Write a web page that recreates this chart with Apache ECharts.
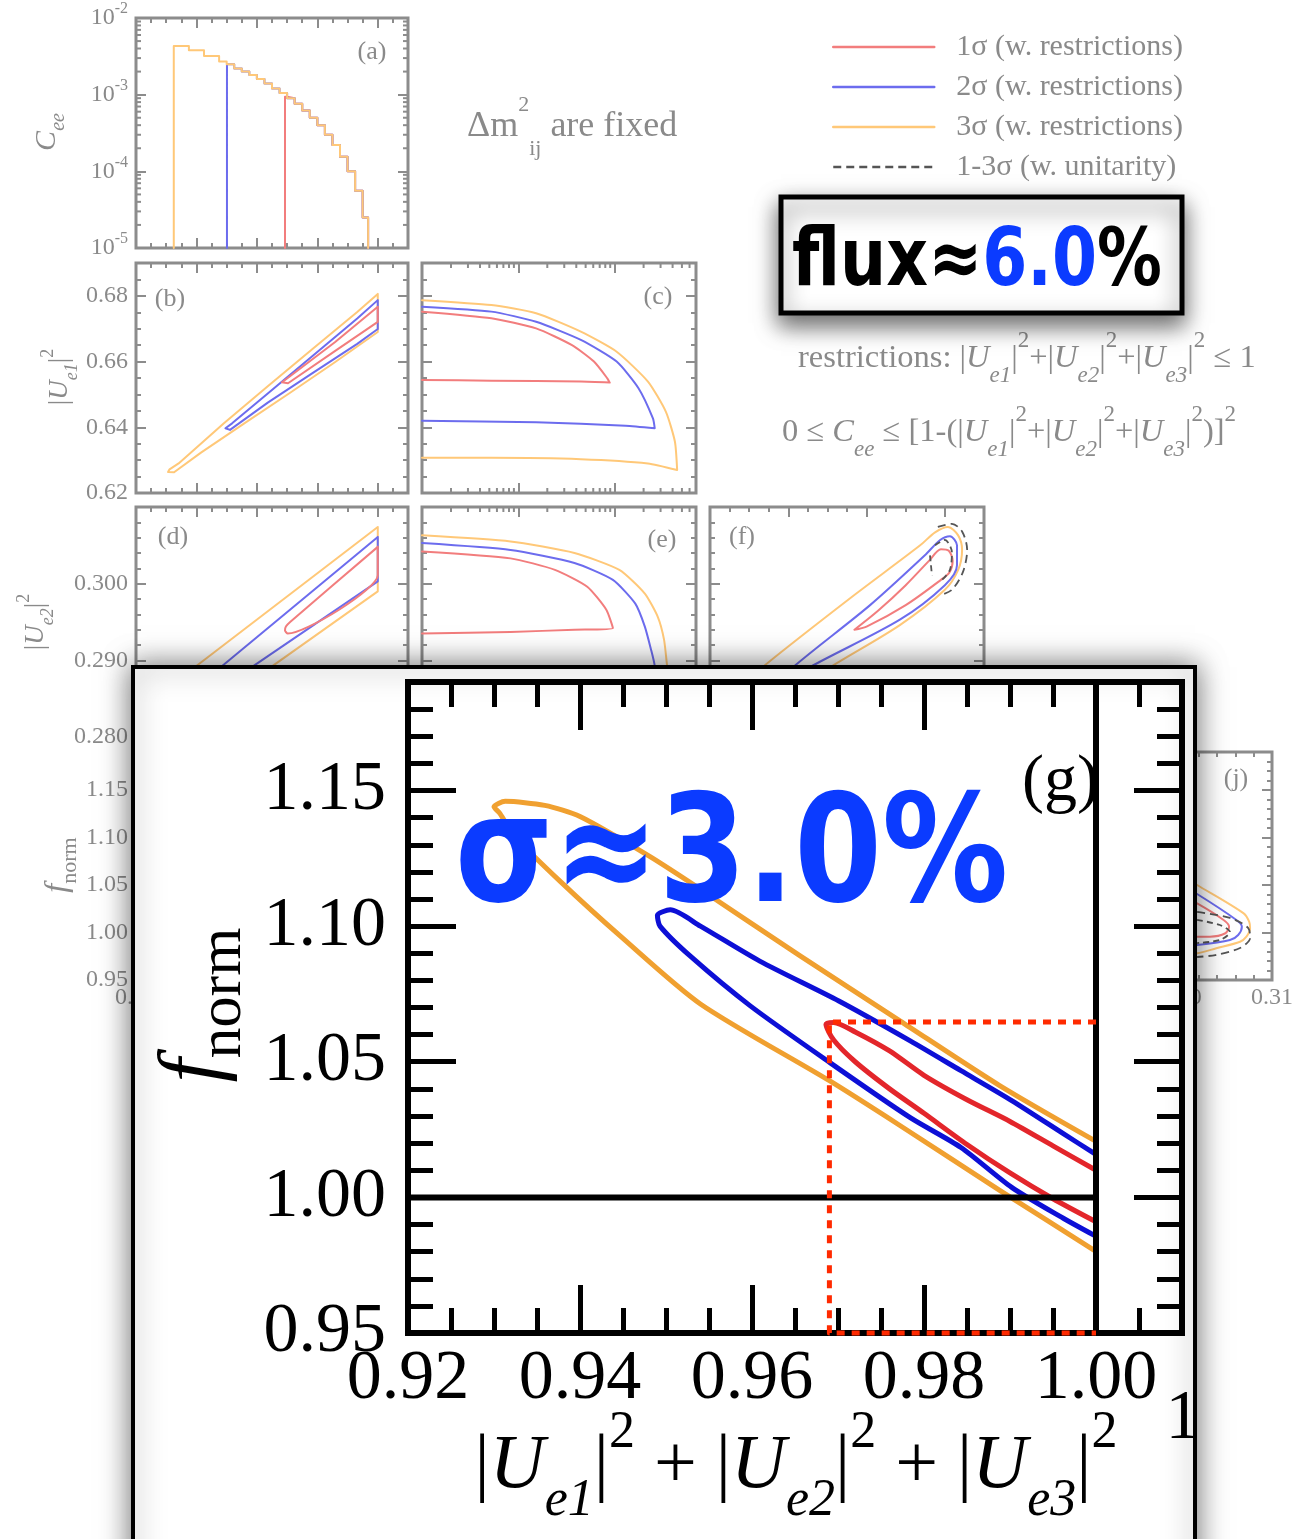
<!DOCTYPE html>
<html>
<head>
<meta charset="utf-8">
<script src="https://cdn.jsdelivr.net/npm/echarts@6.0.0/dist/echarts.min.js"></script>
<style>
html,body{margin:0;padding:0;background:#ffffff;}
#chart{width:1307px;height:1539px;}
</style>
</head>
<body>
<div id="chart"></div>
<script>
// ================= DATA =================
const legendNames = ['1σ (w. restrictions)', '2σ (w. restrictions)', '3σ (w. restrictions)', '1-3σ (w. unitarity)'];

// (a) C_ee upper boundary (staircase) vs |Ue1|²+|Ue2|²+|Ue3|²
const aSum = [0.9325,0.9375,0.9425,0.9475,0.9500,0.9525,0.9550,0.9575,0.9600,0.9625,0.9650,0.9675,0.9700,0.9725,0.9750,0.9775,0.9800,0.9825,0.9850,0.9875,0.9900,0.9925,0.9950,0.9968];
const aCee = [4.3e-3,3.8e-3,3.2e-3,2.7e-3,2.5e-3,2.2e-3,2.0e-3,1.8e-3,1.6e-3,1.4e-3,1.2e-3,1.05e-3,9.0e-4,7.6e-4,6.2e-4,5.0e-4,4.0e-4,3.0e-4,2.2e-4,1.55e-4,1.0e-4,5.6e-5,2.5e-5,1.0e-5];
const aRedStart = [0.9693, 9.4e-4];
const aBlueStart = [0.9501, 2.5e-3];
const aOrangeStart = [0.9325, 4.3e-3];

// (b) |Ue1|² vs sum
const bRed = [[0.9683,0.6537],[0.9703,0.6551],[0.9858,0.6659],[1.0,0.6767],[1.0,0.6721],[0.9858,0.6632],[0.9703,0.6534],[0.9683,0.6537]];
const bBlue = [[0.9496,0.6397],[0.9518,0.6412],[0.9636,0.6503],[0.9784,0.6617],[0.9932,0.6731],[1.0,0.6787],[1.0,0.6699],[0.9932,0.6654],[0.9784,0.6565],[0.9636,0.6475],[0.9511,0.6392],[0.9496,0.6397]];
const bOrange = [[0.9306,0.6264],[0.9311,0.6272],[0.9341,0.6290],[0.9489,0.6411],[0.9636,0.6525],[0.9784,0.6638],[0.9932,0.6751],[1.0,0.6806],[1.0,0.6690],[0.9858,0.6598],[0.9710,0.6505],[0.9562,0.6414],[0.9415,0.6323],[0.9326,0.6263],[0.9306,0.6264]];

// (c) |Ue1|² vs C_ee
const cRed = [[1e-5,0.6752],[5.25e-5,0.6732],[1.53e-4,0.6701],[3.61e-4,0.6650],[6.1e-4,0.6600],[8.4e-4,0.6549],[8.9e-4,0.6536],[4.46e-4,0.6539],[5.25e-5,0.6542],[1e-5,0.6544]];
const cBlue = [[1e-5,0.6767],[5.25e-5,0.6752],[1.53e-4,0.6721],[4.46e-4,0.6666],[1.05e-3,0.6600],[1.77e-3,0.6519],[2.50e-3,0.6427],[2.61e-3,0.6397],[1.30e-3,0.6405],[1.53e-4,0.6415],[1e-5,0.6420]];
const cOrange = [[1e-5,0.6787],[5.25e-5,0.6772],[1.53e-4,0.6747],[4.46e-4,0.6691],[1.05e-3,0.6630],[2.22e-3,0.6539],[3.41e-3,0.6447],[4.23e-3,0.6356],[4.46e-3,0.6270],[2.22e-3,0.6290],[4.46e-4,0.6303],[5.25e-5,0.6307],[1e-5,0.6307]];

// (d) |Ue2|² vs sum
const dRed = [[1.0,0.3048],[0.9710,0.2950],[0.9696,0.2944],[0.9693,0.2939],[0.9702,0.2935],[1.0,0.3011],[1.0,0.3048]];
const dBlue = [[0.935,0.2849],[0.9489,0.2894],[1.0,0.3061],[1.0,0.3003],[0.9594,0.2894],[0.945,0.2855]];
const dOrange = [[0.925,0.2847],[0.9404,0.2894],[1.0,0.3074],[1.0,0.2990],[0.9657,0.2894],[0.945,0.2836]];

// (e) |Ue2|² vs C_ee
const eRed = [[1e-5,0.3042],[8.3e-5,0.3033],[2.4e-4,0.3018],[5.2e-4,0.2996],[8.2e-4,0.2966],[9.6e-4,0.2942],[3.83e-4,0.2940],[8.3e-5,0.2937],[1e-5,0.2935]];
const eBlue = [[1e-5,0.3053],[8.3e-5,0.3044],[3.83e-4,0.3027],[9.6e-4,0.3005],[1.64e-3,0.2974],[2.06e-3,0.2944],[2.4e-3,0.2913],[2.6e-3,0.2894],[2.8e-3,0.2860]];
const eOrange = [[1e-5,0.3063],[8.3e-5,0.3055],[3.83e-4,0.3040],[1.12e-3,0.3018],[2.06e-3,0.2987],[2.8e-3,0.2957],[3.26e-3,0.2927],[3.5e-3,0.2894],[3.9e-3,0.2850]];

// (f) |Ue2|² vs |Ue1|²
const fRed = [[0.6569,0.2940],[0.6630,0.2965],[0.6700,0.2998],[0.6760,0.3030],[0.6790,0.3045],[0.6810,0.3043],[0.6820,0.3030],[0.6812,0.3015],[0.6790,0.3005],[0.6700,0.2972],[0.6600,0.2944],[0.6569,0.2940]];
const fBlue = [[0.6400,0.2880],[0.6412,0.2891],[0.6609,0.2972],[0.6749,0.3037],[0.6788,0.3057],[0.6813,0.3062],[0.6831,0.3050],[0.6831,0.3024],[0.6800,0.2998],[0.6685,0.2953],[0.6455,0.2891],[0.6430,0.2880]];
const fOrange = [[0.6315,0.2880],[0.6341,0.2894],[0.6558,0.2981],[0.6737,0.3050],[0.6775,0.3067],[0.6808,0.3074],[0.6834,0.3063],[0.6844,0.3044],[0.6834,0.3018],[0.6800,0.2992],[0.6685,0.2946],[0.6507,0.2891],[0.6480,0.2880]];
const fDashA = [[0.6782,0.3074],[0.6818,0.3078],[0.6844,0.3068],[0.6857,0.3044],[0.6846,0.3015],[0.6818,0.2992],[0.6788,0.2985]];
const fDashB = [[0.6775,0.3050],[0.6800,0.3057],[0.6818,0.3041],[0.6813,0.3018],[0.6793,0.3005]];
const fDashC = [[0.6762,0.3037],[0.6767,0.3011]];

// (j) f_norm vs |Ue2|²
const jRed = [[0.2912,1.0868],[0.3018,1.0307],[0.3047,1.0132],[0.3053,1.0061],[0.3049,0.9992],[0.3032,0.9956],[0.3018,0.9956],[0.2912,0.9953]];
const jBlue = [[0.2912,1.1026],[0.3018,1.0405],[0.3061,1.0132],[0.3067,1.0061],[0.3063,0.9974],[0.3054,0.9921],[0.3018,0.9868],[0.2912,0.9763]];
const jOrange = [[0.2911,1.1121],[0.3018,1.0500],[0.3069,1.0202],[0.3075,1.0114],[0.3076,1.0044],[0.3072,0.9956],[0.3065,0.9903],[0.3039,0.9834],[0.3018,0.9781],[0.2912,0.9658]];
const jDashA = [[0.3018,1.0216],[0.3054,1.0153],[0.3074,1.0047],[0.3076,0.9942],[0.3065,0.9837],[0.3038,0.9763],[0.3018,0.9742]];
const jDashB = [[0.3018,1.0132],[0.3043,1.0079],[0.3054,1.0005],[0.3043,0.9921],[0.3018,0.9889]];

// (g) magnified: f_norm vs sum
const gRed = [[1.0,1.0100],[0.995,1.0190],[0.990,1.0280],[0.985,1.0360],[0.980,1.0450],[0.976,1.0540],[0.972,1.0610],[0.9695,1.0645],[0.9686,1.0638],[0.9695,1.0580],[0.972,1.0500],[0.976,1.0400],[0.980,1.0310],[0.985,1.0195],[0.990,1.0090],[0.995,0.9995],[1.0,0.9910]];
const gBlue = [[0.9998,1.0162],[0.9962,1.0235],[0.9902,1.0357],[0.9843,1.0467],[0.9784,1.0577],[0.9701,1.0724],[0.9609,1.0871],[0.9540,1.1000],[0.9505,1.1060],[0.9490,1.1040],[0.9493,1.1000],[0.9528,1.0890],[0.9598,1.0706],[0.9691,1.0496],[0.9784,1.0294],[0.9843,1.0184],[0.9902,1.0037],[0.9962,0.9923],[0.9998,0.9860]];
const gOrange = [[0.9998,1.0210],[0.9888,1.0412],[0.9772,1.0651],[0.9656,1.0890],[0.9540,1.1136],[0.9481,1.1257],[0.9400,1.1404],[0.9359,1.1445],[0.9313,1.1460],[0.9300,1.1440],[0.9307,1.1415],[0.9324,1.1331],[0.9377,1.1165],[0.9447,1.0963],[0.9540,1.0713],[0.9690,1.0430],[0.9772,1.0265],[0.9888,1.0026],[0.9998,0.9805]];
const gUnitV = [[1.0,0.95],[1.0,1.19]];
const gUnitH = [[0.92,1.0],[1.0,1.0]];
const gBox = [[1.0,1.0647],[0.969,1.0647],[0.969,0.95],[1.0,0.95]];

// axis ranges
const sumAxis = {min:0.92, max:1.01, interval:0.02, minor:4};
const ceeAxis = {type:'log', min:1e-5, max:7e-3};
const ue1Axis = {min:0.62, max:0.69, interval:0.02, minor:4};
const ue2Axis = {min:0.28, max:0.31, interval:0.01, minor:5};
const fnAxis = {min:0.95, max:1.19, interval:0.05, minor:5};
const logMultipliers = [2,3,4,5,6,7,8,9];
const logDecades = [-5,-4,-3];

// ================= STYLE / BUILD =================
const SERIF = '"Liberation Serif", "Times New Roman", Times, serif';
const GRAY = '#8a8a8a';
const LC = {red:'#f27d7d', blue:'#6c6cee', orange:'#ffc878', dash:'#555555'};
const ZC = {red:'#e3262b', blue:'#0d0fd6', orange:'#f0a030'};
const BG = {z:0, color:'#8c8c8c', tickL:10, minorL:5, tickW:2, labelColor:GRAY, labelSize:24, xMargin:6, yMargin:8};
const ZM = {z:12, color:'#000000', tickL:48, minorL:25, tickW:5, labelColor:'#000000', labelSize:70, xMargin:12, yMargin:22};

const grids = [], xAxes = [], yAxes = [], series = [], elements = [];

function mkAxis(gi, c, pos, showLabel, st, isX) {
  const isLog = c.type === 'log';
  const ax = {
    gridIndex: gi, type: isLog ? 'log' : 'value', position: pos,
    min: c.min, max: c.max, z: st.z,
    axisLine: {show: false}, splitLine: {show: false}, minorSplitLine: {show: false},
    axisTick: {show: true, inside: true, length: st.tickL, lineStyle: {color: st.color, width: st.tickW}},
    minorTick: {show: !isLog, splitNumber: c.minor || 5, length: st.minorL, lineStyle: {color: st.color, width: st.tickW}},
    axisLabel: {show: !!showLabel, color: st.labelColor, fontFamily: SERIF, fontSize: st.labelSize,
      margin: isX ? st.xMargin : st.yMargin, showMinLabel: true, showMaxLabel: !!c.showMax, hideOverlap: false}
  };
  if (isLog) ax.logBase = 10;
  if (c.interval) ax.interval = c.interval;
  if (c.dec !== undefined) { const d = c.dec; ax.axisLabel.formatter = v => Number(v).toFixed(d); }
  if (c.exp) {
    ax.axisLabel.formatter = v => '{b|10}{s|' + Math.round(Math.log10(v)) + '}';
    ax.axisLabel.lineHeight = 34;
    ax.axisLabel.rich = {
      b: {fontSize: 24, fontFamily: SERIF, color: GRAY, lineHeight: 34},
      s: {fontSize: 16, fontFamily: SERIF, color: GRAY, verticalAlign: 'top'}
    };
  }
  return ax;
}
function addPanel(rect, xc, yc, st, frameColor, frameW) {
  const gi = grids.length;
  grids.push({left: rect[0], top: rect[1], width: rect[2], height: rect[3], show: true,
    backgroundColor: 'transparent', borderColor: frameColor, borderWidth: frameW, z: st.z,
    containLabel: false, outerBoundsMode: 'none'});
  xAxes.push(mkAxis(gi, xc, 'bottom', xc.labels, st, true));
  xAxes.push(mkAxis(gi, xc, 'top', false, st, true));
  yAxes.push(mkAxis(gi, yc, 'left', yc.labels, st, false));
  yAxes.push(mkAxis(gi, yc, 'right', false, st, false));
  return {x: xAxes.length - 2, y: yAxes.length - 2};
}
function addLine(p, data, color, width, o) {
  o = o || {};
  series.push({type: 'line', name: o.name, xAxisIndex: p.x, yAxisIndex: p.y, data: data,
    symbol: 'none', showSymbol: false, smooth: o.smooth || false, clip: o.clip !== false,
    z: o.z || 2, silent: true, animation: false,
    lineStyle: {color: color, width: width, type: o.dash || 'solid', cap: o.cap || 'round', join: 'round'},
    itemStyle: {color: color}, emphasis: {disabled: true}});
}
function logTicks(p, axis, other, L, color, w, maxV) {
  const vals = [];
  logDecades.forEach(e => logMultipliers.forEach(m => { const v = m * Math.pow(10, e); if (v < maxV) vals.push(v); }));
  series.push({type: 'custom', xAxisIndex: p.x, yAxisIndex: p.y, silent: true, clip: false, z: 2, animation: false,
    data: vals.map(v => axis === 'y' ? [other, v] : [v, other]),
    renderItem: function (params, api) {
      const cs = params.coordSys;
      const pt = api.coord([api.value(0), api.value(1)]);
      const st = {stroke: color, lineWidth: w};
      if (axis === 'y') return {type: 'group', children: [
        {type: 'line', shape: {x1: cs.x, y1: pt[1], x2: cs.x + L, y2: pt[1]}, style: st},
        {type: 'line', shape: {x1: cs.x + cs.width - L, y1: pt[1], x2: cs.x + cs.width, y2: pt[1]}, style: st}]};
      return {type: 'group', children: [
        {type: 'line', shape: {x1: pt[0], y1: cs.y, x2: pt[0], y2: cs.y + L}, style: st},
        {type: 'line', shape: {x1: pt[0], y1: cs.y + cs.height - L, x2: pt[0], y2: cs.y + cs.height}, style: st}]};
    }});
}
function stair(start) {
  const pts = [[start[0], 1e-5], [start[0], start[1]]];
  let cur = start[1];
  for (let i = 0; i < aSum.length; i++) {
    if (aSum[i] > start[0]) { pts.push([aSum[i], cur]); pts.push([aSum[i], aCee[i]]); cur = aCee[i]; }
  }
  return pts;
}

// ---------- panels ----------
const FR = '#8c8c8c';
const pa = addPanel([136, 18, 272, 230], sumAxis, {type: 'log', min: 1e-5, max: 1e-2, labels: true, exp: true, showMax: true}, BG, FR, 3);
const pb = addPanel([136, 263, 272, 230], sumAxis, Object.assign({labels: true, dec: 2}, ue1Axis), BG, FR, 3);
const pc = addPanel([422, 263, 274, 230], ceeAxis, ue1Axis, BG, FR, 3);
const pd = addPanel([136, 507, 272, 230], sumAxis, Object.assign({labels: true, dec: 3}, ue2Axis), BG, FR, 3);
const pe = addPanel([422, 507, 274, 230], ceeAxis, ue2Axis, BG, FR, 3);
const pf = addPanel([710, 507, 274, 230], ue1Axis, ue2Axis, BG, FR, 3);
const pg = addPanel([136, 752, 272, 228], Object.assign({labels: true, dec: 2}, sumAxis), Object.assign({labels: true, dec: 2}, fnAxis), BG, FR, 3);
const pj = addPanel([998, 752, 274, 228], Object.assign({labels: true, dec: 2, showMax: true}, ue2Axis), fnAxis, BG, FR, 3);
const pz = addPanel([408, 682, 774, 651], Object.assign({labels: true, dec: 2}, sumAxis), Object.assign({labels: true, dec: 2}, fnAxis), ZM, '#000000', 6);

// ---------- background series ----------
const W = 2;
addLine(pa, stair(aRedStart), LC.red, W, {name: legendNames[0]});
addLine(pa, stair(aBlueStart), LC.blue, W, {name: legendNames[1]});
addLine(pa, stair(aOrangeStart), LC.orange, W, {name: legendNames[2]});
addLine(pf, fDashA, LC.dash, 1.8, {name: legendNames[3], dash: [8, 5], cap: 'butt', smooth: 0.3});

addLine(pb, bOrange, LC.orange, W, {name: legendNames[2]});
addLine(pb, bBlue, LC.blue, W, {name: legendNames[1]});
addLine(pb, bRed, LC.red, W, {name: legendNames[0]});
addLine(pc, cOrange, LC.orange, W, {name: legendNames[2], smooth: 0.2});
addLine(pc, cBlue, LC.blue, W, {name: legendNames[1], smooth: 0.2});
addLine(pc, cRed, LC.red, W, {name: legendNames[0], smooth: 0.2});
addLine(pd, dOrange, LC.orange, W, {name: legendNames[2]});
addLine(pd, dBlue, LC.blue, W, {name: legendNames[1]});
addLine(pd, dRed, LC.red, W, {name: legendNames[0], smooth: 0.2});
addLine(pe, eOrange, LC.orange, W, {name: legendNames[2], smooth: 0.2});
addLine(pe, eBlue, LC.blue, W, {name: legendNames[1], smooth: 0.2});
addLine(pe, eRed, LC.red, W, {name: legendNames[0], smooth: 0.2});
addLine(pf, fOrange, LC.orange, W, {name: legendNames[2], smooth: 0.3});
addLine(pf, fBlue, LC.blue, W, {name: legendNames[1], smooth: 0.3});
addLine(pf, fRed, LC.red, W, {name: legendNames[0], smooth: 0.3});
addLine(pf, fDashB, LC.dash, 1.8, {name: legendNames[3], dash: [6, 4], cap: 'butt', smooth: 0.3});
addLine(pf, fDashC, LC.dash, 1.8, {name: legendNames[3], dash: [6, 4], cap: 'butt'});
addLine(pj, jOrange, LC.orange, W, {name: legendNames[2], smooth: 0.3});
addLine(pj, jBlue, LC.blue, W, {name: legendNames[1], smooth: 0.3});
addLine(pj, jRed, LC.red, W, {name: legendNames[0], smooth: 0.3});
addLine(pj, jDashA, LC.dash, 1.8, {name: legendNames[3], dash: [8, 5], cap: 'butt', smooth: 0.3});
addLine(pj, jDashB, LC.dash, 1.8, {name: legendNames[3], dash: [6, 4], cap: 'butt', smooth: 0.3});

logTicks(pa, 'y', 0.95, 5, '#8c8c8c', 2, 1e-2);
logTicks(pc, 'x', 0.65, 5, '#8c8c8c', 2, 7e-3);
logTicks(pe, 'x', 0.295, 5, '#8c8c8c', 2, 7e-3);

// ---------- magnified (g) series ----------
addLine(pz, gOrange, ZC.orange, 5, {name: 'g-3σ', smooth: 0.25, z: 13});
addLine(pz, gBlue, ZC.blue, 5, {name: 'g-2σ', smooth: 0.25, z: 13});
addLine(pz, gRed, ZC.red, 5, {name: 'g-1σ', smooth: 0.25, z: 13});
addLine(pz, gUnitV, '#000000', 6, {name: 'g-unit-v', z: 14, clip: false, cap: 'butt'});
addLine(pz, gUnitH, '#000000', 6, {name: 'g-unit-h', z: 14, clip: false, cap: 'butt'});
addLine(pz, gBox, '#ff2a00', 5, {name: 'g-box', z: 15, clip: false, dash: [8, 7], cap: 'butt'});

// ---------- texts ----------
function rich(size, color, subRatio) {
  const s = Math.round(size * (subRatio || 0.68));
  return {
    n: {fontSize: size, fontFamily: SERIF, fill: color, color: color},
    i: {fontSize: size, fontFamily: SERIF, fontStyle: 'italic', fill: color, color: color},
    sub: {fontSize: s, fontFamily: SERIF, fontStyle: 'italic', fill: color, color: color, verticalAlign: 'bottom'},
    subn: {fontSize: s, fontFamily: SERIF, fill: color, color: color, verticalAlign: 'bottom'},
    sup: {fontSize: s, fontFamily: SERIF, fill: color, color: color, verticalAlign: 'top'}
  };
}
function txt(x, y, text, o) {
  o = o || {};
  const align = o.align || 'center', va = o.va || 'middle';
  elements.push({type: 'text', x: x, y: y, rotation: o.rot || 0, scaleX: o.sx || 1, scaleY: 1, z: o.z || 1, silent: true,
    style: {text: text, rich: o.rich, fill: o.fill || GRAY, fontSize: o.size || 24,
      fontFamily: o.family || SERIF, fontStyle: o.italic ? 'italic' : 'normal', fontWeight: o.bold ? 'bold' : 'normal',
      align: align, textAlign: align, verticalAlign: va, textVerticalAlign: va, lineHeight: o.lh}});
}
const RP = Math.PI / 2;
// axis titles (background)
txt(47, 132, '{i|C}{sub|ee}', {rich: rich(30, GRAY), rot: RP, lh: 44});
txt(60, 377, '{n||}{i|U}{sub|e1}{n||}{sup|2}', {rich: rich(27, GRAY), rot: RP, lh: 42});
txt(36, 622, '{n||}{i|U}{sub|e2}{n||}{sup|2}', {rich: rich(27, GRAY), rot: RP, lh: 42});
txt(58, 865, '{i|f}{subn|norm}', {rich: rich(32, GRAY), rot: RP, lh: 46});
// panel tags
txt(372, 52, '(a)', {size: 26});
txt(170, 299, '(b)', {size: 26});
txt(658, 297, '(c)', {size: 26});
txt(173, 537, '(d)', {size: 26});
txt(662, 540, '(e)', {size: 26});
txt(742, 537, '(f)', {size: 26});
txt(1236, 779, '(j)', {size: 26});
// annotations
txt(467, 127, '{n|Δm}{sup|2}{subn|ij}{n| are fixed}', {rich: rich(36, GRAY, 0.62), align: 'left', lh: 66});
txt(798, 358, '{n|restrictions: |}{i|U}{sub|e1}{n||}{sup|2}{n|+|}{i|U}{sub|e2}{n||}{sup|2}{n|+|}{i|U}{sub|e3}{n||}{sup|2}{n| ≤ 1}',
  {rich: rich(32.5, GRAY, 0.72), align: 'left', lh: 58});
txt(782, 432, '{n|0 ≤ }{i|C}{sub|ee}{n| ≤ [1-(|}{i|U}{sub|e1}{n||}{sup|2}{n|+|}{i|U}{sub|e2}{n||}{sup|2}{n|+|}{i|U}{sub|e3}{n||}{sup|2}{n|)]}{sup|2}',
  {rich: rich(32.5, GRAY, 0.72), align: 'left', lh: 58});

// overlay frame (magnified panel g)
elements.push({type: 'rect', z: 10, silent: true, shape: {x: 133, y: 667, width: 1062, height: 920},
  style: {fill: '#ffffff', stroke: '#000000', lineWidth: 4, shadowBlur: 28, shadowColor: 'rgba(0,0,0,0.55)'}});
txt(195, 1005, '{f|f}{sub|norm}', {rot: RP, z: 12, lh: 120, rich: {
  f: {fontSize: 86, fontFamily: SERIF, fontStyle: 'italic', fill: '#000', color: '#000'},
  sub: {fontSize: 62, fontFamily: SERIF, fill: '#000', color: '#000', verticalAlign: 'bottom'}}});
txt(796, 1467, '{n||}{i|U}{sub|e1}{n||}{sup|2}{n| + |}{i|U}{sub|e2}{n||}{sup|2}{n| + |}{i|U}{sub|e3}{n||}{sup|2}',
  {rich: rich(76, '#000000', 0.68), z: 12, lh: 120});
txt(1022, 783, '(g)', {size: 66, fill: '#000000', align: 'left', z: 12});
txt(1183, 1420, '1', {size: 70, fill: '#000000', z: 12});
txt(455, 862, 'σ≈3.0%', {size: 150, bold: true, family: '"DejaVu Sans", Verdana, sans-serif', fill: '#0b3bff', align: 'left', sx: 0.84, z: 20});

// flux box
elements.push({type: 'rect', z: 20, silent: true, shape: {x: 781, y: 197, width: 401, height: 116},
  style: {fill: '#ffffff', stroke: '#000000', lineWidth: 5, shadowBlur: 22, shadowOffsetY: 10, shadowColor: 'rgba(0,0,0,0.6)'}});
txt(792, 264, '{b|flux≈}{c|6.0}{b|%}', {align: 'left', sx: 0.81, z: 21, rich: {
  b: {fontSize: 80, fontWeight: 'bold', fontFamily: '"DejaVu Sans", Verdana, sans-serif', fill: '#000000', color: '#000000'},
  c: {fontSize: 80, fontWeight: 'bold', fontFamily: '"DejaVu Sans", Verdana, sans-serif', fill: '#0b3bff', color: '#0b3bff'}}});

const option = {
  animation: false,
  backgroundColor: '#ffffff',
  legend: {orient: 'vertical', left: 827, top: 27, itemWidth: 101, itemHeight: 26, itemGap: 10, selectedMode: false,
    itemStyle: {opacity: 0, borderWidth: 0},
    lineStyle: {width: 2.5},
    textStyle: {color: GRAY, fontFamily: SERIF, fontSize: 30, lineHeight: 26, padding: [0, 0, 0, 17]},
    data: legendNames},
  grid: grids, xAxis: xAxes, yAxis: yAxes, series: series,
  graphic: {elements: elements}
};
const chart = echarts.init(document.getElementById('chart'), null, {renderer: 'canvas'});
chart.setOption(option);
</script>
</body>
</html>
